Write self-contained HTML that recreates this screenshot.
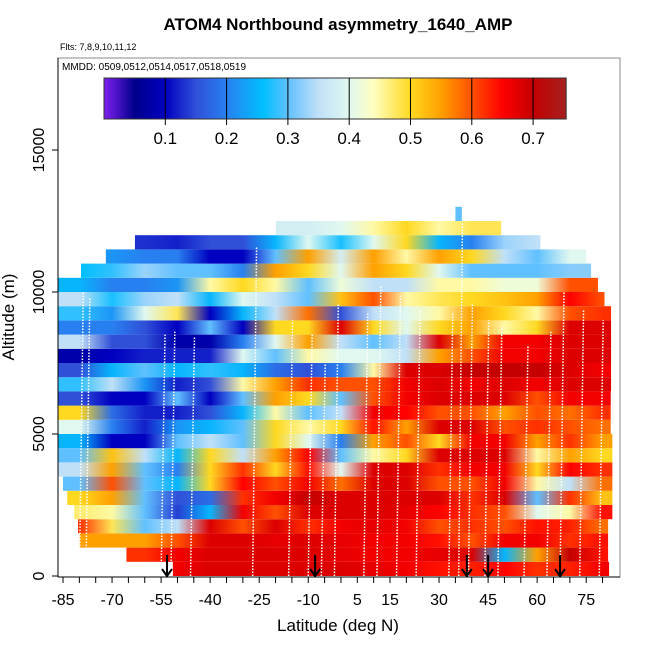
<!DOCTYPE html>
<html><head><meta charset="utf-8">
<style>
html,body{margin:0;padding:0;background:#fff;}
svg text{font-family:"Liberation Sans",Arial,sans-serif;}
</style></head>
<body>
<svg id="chart" width="650" height="650" viewBox="0 0 650 650" xmlns="http://www.w3.org/2000/svg">
<rect x="0" y="0" width="650" height="650" fill="#fff"/>
<g id="heat"></g>
<g id="tracks"></g>
<g id="arrows"></g>
<rect x="58" y="58" width="562" height="519" fill="none" stroke="#888" stroke-width="1"/>
<line x1="58" y1="577" x2="620" y2="577" stroke="#000" stroke-width="1"/>
<line x1="58" y1="58" x2="58" y2="577" stroke="#000" stroke-width="1"/>
<g id="xaxis"></g>
<g id="yaxis"></g>
<g id="cbar"></g>
<text x="338" y="30" text-anchor="middle" font-size="17" font-weight="bold">ATOM4 Northbound asymmetry_1640_AMP</text>
<text x="60" y="50" font-size="9">Flts: 7,8,9,10,11,12</text>
<text x="62" y="70" font-size="10">MMDD: 0509,0512,0514,0517,0518,0519</text>
<text x="338" y="631" text-anchor="middle" font-size="17">Latitude (deg N)</text>
<text x="0" y="0" transform="translate(14,317) rotate(-90)" text-anchor="middle" font-size="17">Altitude (m)</text>
</svg>
<script>
// ---- data ----
const colLats = [-80,-70,-60,-50,-40,-30,-20,-10,0,10,20,30,40,50,60,70,80];
const rowAlts = [0,500,1000,1500,2000,2500,3000,3500,4000,4500,5000,5500,6000,6500,7000,7500,8000,8500,9000,9500,10000,10500,11000,11500,12000,12500];
const rowStart = [-51.4,-65.6,-79.9,-80.4,-81.6,-83.7,-85,-86.5,-86.5,-86.5,-86.5,-86.5,-86.5,-86.5,-86.5,-86.5,-86.5,-86.5,-86.5,-86.5,-86.5,-79.5,-71.9,-63,-19.9,35];
const rowEnd = [82,81.7,81.7,81.7,83,83,83,83,83,83,82.5,82.5,82.5,82.6,82.6,82.6,82.6,82.6,82.6,80.6,78.6,76.5,75,61,49,37];
const r00=[-1,-1,-1,0.66,0.68,0.68,0.68,0.68,0.68,0.67,0.66,0.64,0.63,0.65,0.62,0.63,0.66];
const r01=[-1,0.62,0.62,0.66,0.68,0.68,0.68,0.68,0.67,0.66,0.66,0.67,0.68,0.25,0.55,0.7,0.64];
const r02=[0.55,0.55,0.55,0.6,0.68,0.68,0.67,0.68,0.67,0.66,0.66,0.64,0.6,0.66,0.66,0.62,0.64];
const r03=[0.62,0.48,0.3,0.35,0.68,0.6,0.68,0.62,0.66,0.67,0.66,0.6,0.62,0.6,0.64,0.63,0.58];
const r04=[0.47,0.45,0.3,0.14,0.25,0.66,0.6,0.68,0.68,0.68,0.67,0.65,0.62,0.6,0.4,0.45,0.64];
const r05=[0.5,0.55,0.3,0.15,0.18,0.62,0.66,0.7,0.68,0.68,0.68,0.68,0.62,0.68,0.3,0.62,0.52];
const r06=[0.3,0.6,0.3,0.25,0.5,0.65,0.6,0.66,0.58,0.68,0.68,0.6,0.6,0.66,0.45,0.35,0.58];
const r07=[0.35,0.55,0.3,0.2,0.5,0.62,0.5,0.64,0.4,0.68,0.68,0.62,0.66,0.66,0.5,0.65,0.62];
const r08=[0.3,0.52,0.35,0.25,0.5,0.35,0.55,0.65,0.3,0.45,0.5,0.68,0.68,0.68,0.45,0.55,0.5];
const r09=[0.25,0.1,0.1,0.3,0.35,0.3,0.5,0.4,0.2,0.55,0.6,0.5,0.66,0.66,0.55,0.62,0.55];
const r10=[0.4,0.2,0.12,0.22,0.25,0.3,0.5,0.45,0.5,0.64,0.55,0.68,0.68,0.6,0.62,0.6,0.58];
const r11=[0.5,0.18,0.12,0.12,0.15,0.25,0.45,0.3,0.35,0.66,0.65,0.6,0.6,0.55,0.6,0.58,0.62];
const r12=[0.15,0.1,0.1,0.3,0.1,0.3,0.55,0.5,0.3,0.6,0.66,0.68,0.68,0.68,0.6,0.66,0.66];
const r13=[0.28,0.35,0.22,0.12,0.15,0.45,0.55,0.62,0.6,0.6,0.66,0.68,0.66,0.68,0.66,0.68,0.68];
const r14=[0.15,0.25,0.3,0.25,0.28,0.25,0.18,0.15,0.2,0.45,0.68,0.68,0.7,0.7,0.7,0.68,0.66];
const r15=[0.08,0.1,0.12,0.12,0.12,0.4,0.3,0.45,0.4,0.4,0.35,0.55,0.6,0.66,0.66,0.68,0.68];
const r16=[0.35,0.15,0.15,0.08,0.08,0.2,0.4,0.55,0.35,0.3,0.35,0.68,0.55,0.66,0.66,0.68,0.68];
const r17=[0.2,0.2,0.15,0.1,0.3,0.1,0.5,0.5,0.68,0.5,0.4,0.5,0.55,0.45,0.5,0.68,0.68];
const r18=[0.28,0.22,0.4,0.48,0.1,0.25,0.35,0.58,0.15,0.35,0.4,0.45,0.55,0.5,0.45,0.6,0.62];
const r19=[0.35,0.27,0.33,0.35,0.25,0.4,0.35,0.3,0.52,0.6,0.45,0.48,0.5,0.52,0.55,0.65,0.6];
const r20=[0.25,0.2,0.2,0.22,0.45,0.5,0.45,0.3,0.42,0.35,0.35,0.45,0.45,0.42,0.42,0.6,0.6];
const r21=[0.26,0.28,0.33,0.3,0.3,0.2,0.55,0.5,0.4,0.55,0.5,0.4,0.3,0.3,0.3,0.32,-1];
const r22=[-1,0.22,0.2,0.2,0.1,0.1,0.3,0.55,0.38,0.55,0.45,0.55,0.5,0.35,0.3,0.4,-1];
const r23=[-1,-1,0.13,0.12,0.15,0.15,0.25,0.4,0.27,0.4,0.5,0.25,0.2,0.33,0.35,-1,-1];
const r24=[-1,-1,-1,-1,-1,-1,0.38,0.38,0.4,0.45,0.5,0.45,0.48,-1,-1,-1,-1];
const r25=[-1,-1,-1,-1,-1,-1,-1,-1,-1,-1,-1,-1,0.3,-1,-1,-1,-1];
const gridRows = [r00,r01,r02,r03,r04,r05,r06,r07,r08,r09,r10,r11,r12,r13,r14,r15,r16,r17,r18,r19,r20,r21,r22,r23,r24,r25];
const profileLats = [-80,-78,-55,-52,-46,-27,-16,-10,-6,-2,7,11,17,23,33,36,39,44,48,56,63,67,73,79];
const profileTops = [10000,9800,8500,8600,8400,11600,9000,8500,7500,9600,9300,10200,9900,9400,9300,12800,9600,9000,8800,8100,8600,10000,9400,9000];
const arrowLats = [-53.2,-7.9,38.5,45,67];
const xTickLabels = [-85,-70,-55,-40,-25,-10,5,15,30,45,60,75];
const yTickLabels = [0,5000,10000,15000];
const cbarTicks = [0.1,0.2,0.3,0.4,0.5,0.6,0.7];

// ---- scales ----
const X = lat => 63 + (lat + 85) * 3.27;
const Y = alt => 576 - alt * (142 / 5000);
const CB = v => 104 + v * 613;
const stops = [[0,[128,32,240]],[0.05,[0,0,140]],[0.1,[0,0,192]],[0.15,[48,80,216]],[0.2,[40,128,240]],[0.26,[0,192,255]],[0.3,[96,192,255]],[0.35,[192,224,248]],[0.4,[224,248,240]],[0.44,[255,255,192]],[0.5,[255,216,32]],[0.55,[255,160,0]],[0.6,[255,80,0]],[0.65,[255,0,0]],[0.7,[196,0,0]],[0.76,[165,32,32]]];
function col(v){
  v=Math.max(0,Math.min(0.76,v));
  for(let i=1;i<stops.length;i++){
    if(v<=stops[i][0]){
      const a=stops[i-1],b=stops[i],t=(v-a[0])/(b[0]-a[0]);
      const c=a[1].map((q,k)=>Math.round(q+(b[1][k]-q)*t));
      return `rgb(${c[0]},${c[1]},${c[2]})`;
    }
  }
  return 'rgb(165,32,32)';
}
const NS='http://www.w3.org/2000/svg';
function mk(tag,attrs,parent){const e=document.createElementNS(NS,tag);for(const k in attrs)e.setAttribute(k,attrs[k]);parent.appendChild(e);return e;}
const svg=document.getElementById('chart');
const defs=mk('defs',{},svg);

// ---- heatmap rows ----
const heat=document.getElementById('heat');
gridRows.forEach((row,r)=>{
  const x0=X(rowStart[r]), x1=X(rowEnd[r]);
  const gid='g'+r;
  const g=mk('linearGradient',{id:gid,gradientUnits:'userSpaceOnUse',x1:x0,y1:0,x2:x1,y2:0},defs);
  row.forEach((v,i)=>{
    if(v<0)return;
    const cx=X(colLats[i]);
    const off=Math.max(0,Math.min(1,(cx-x0)/(x1-x0)));
    mk('stop',{offset:off,'stop-color':col(v)},g);
  });
  const top=Y(rowAlts[r]+500), bot=Y(rowAlts[r]);
  const el=mk('rect',{x:x0,y:top,width:x1-x0,height:bot-top,fill:`url(#${gid})`},heat);
  
  
});

// ---- flight tracks ----
const tracks=document.getElementById('tracks');
profileLats.forEach((lat,i)=>{
  const el=mk('line',{x1:X(lat),y1:Y(0),x2:X(lat+1.2),y2:Y(profileTops[i]),stroke:'#fff','stroke-width':1.5,'stroke-dasharray':'1.5 1.5'},tracks);
  
  
});

// ---- arrows ----
const arrows=document.getElementById('arrows');
arrowLats.forEach(lat=>{
  const x=X(lat);
  const el=mk('path',{d:`M${x},555 L${x},576 M${x-5},569 L${x},576 L${x+5},569`,stroke:'#000','stroke-width':2,fill:'none'},arrows);
  
  
});

// ---- x axis ----
const xa=document.getElementById('xaxis');
for(let lat=-85;lat<=80;lat+=5){
  const t=mk('line',{x1:X(lat),y1:577,x2:X(lat),y2:583,stroke:'#000'},xa);
  
  
}
xTickLabels.forEach(v=>{
  const t=mk('text',{x:X(v),y:605,'text-anchor':'middle','font-size':16},xa);
  t.textContent=v;
  
  
});

// ---- y axis ----
const ya=document.getElementById('yaxis');
yTickLabels.forEach(v=>{
  const y=Y(v);
  const l=mk('line',{x1:52,y1:y,x2:58,y2:y,stroke:'#000'},ya);
  
  
  const t=mk('text',{x:0,y:0,transform:`translate(44,${y}) rotate(-90)`,'text-anchor':'middle','font-size':16},ya);
  t.textContent=v;
  
  
});

// ---- colorbar ----
const cb=document.getElementById('cbar');
const cg=mk('linearGradient',{id:'cbg',gradientUnits:'userSpaceOnUse',x1:CB(0),y1:0,x2:CB(0.754),y2:0},defs);
stops.forEach(s=>{mk('stop',{offset:Math.min(1,s[0]/0.754),'stop-color':`rgb(${s[1].join(',')})`},cg);});
const cr=mk('rect',{x:CB(0),y:78,width:CB(0.754)-CB(0),height:41,fill:'url(#cbg)',stroke:'#333','stroke-width':1},cb);


cbarTicks.forEach(v=>{
  const l=mk('line',{x1:CB(v),y1:78,x2:CB(v),y2:125,stroke:'#000','stroke-width':1},cb);
  
  
  const t=mk('text',{x:CB(v),y:144,'text-anchor':'middle','font-size':17},cb);
  t.textContent=v.toFixed(1);
  
  
});
</script>
</body></html>
